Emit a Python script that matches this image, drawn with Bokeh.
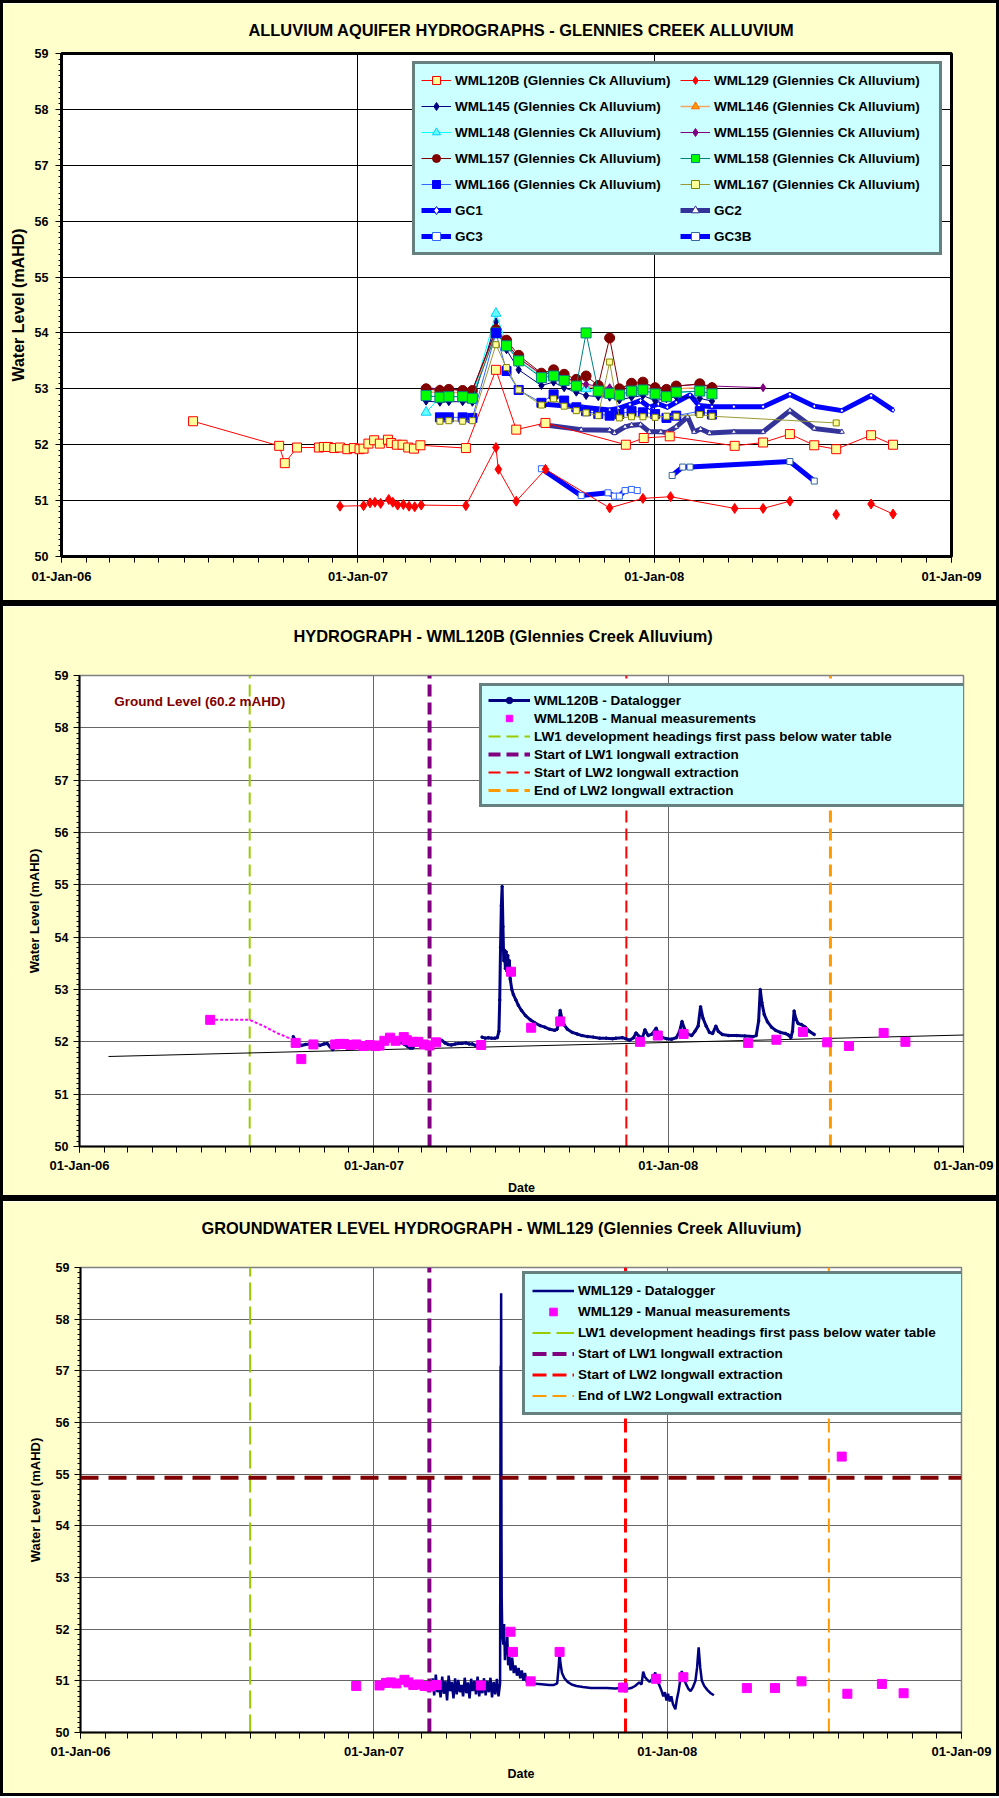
import numpy as np
import pandas as pd
from bokeh.plotting import figure
from bokeh.models import (Range1d, FixedTicker, SingleIntervalTicker, DatetimeTickFormatter,
                          Legend, LegendItem, Span, Label)
from bokeh.embed import file_html
from bokeh.resources import INLINE

# ---------------- DATA (days counted from BASE date) ----------------
BASE = "2007-01-01"
X_START, X_END = "2006-01-01", "2009-01-01"
Y_MIN, Y_MAX = 50, 59
YEAR_TICKS = ["2006-01-01", "2007-01-01", "2008-01-01", "2009-01-01"]

wml120b_days = [-203, -97, -90, -75, -48, -42, -37, -29, -22, -13, -5, 2, 7, 13, 20, 27, 37, 41, 48, 55,
                62, 69, 77, 133, 170, 195, 231, 330, 352, 384, 464, 499, 532, 562, 589, 632, 659]
wml120b_vals = [52.42, 51.98, 51.67, 51.95, 51.95, 51.96, 51.96, 51.94, 51.95, 51.92, 51.94, 51.92, 51.93,
                52.02, 52.08, 52.02, 52.09, 52.03, 52.0, 52.0, 51.95, 51.93, 51.99, 51.94,
                53.34, 52.27, 52.39, 52.0, 52.12, 52.15, 51.98, 52.04, 52.19, 51.99, 51.92, 52.17, 52.0]

wml129_days = [-22, 7, 15, 21, 28, 38, 43, 49, 56, 63, 70, 78, 133, 170, 173, 195, 231, 310, 351, 385,
               464, 499, 532, 560, 589, 610, 632, 659]
wml129_vals = [50.9, 50.91, 50.96, 50.97, 50.95, 51.02, 50.97, 50.92, 50.93, 50.9, 50.89, 50.92, 50.91,
               51.95, 51.56, 50.99, 51.56, 50.87, 51.04, 51.07, 50.86, 50.86, 50.99, np.nan, 50.75, np.nan,
               50.94, 50.76]

cluster_days = [84, 101, 112, 129, 141, 170, 183, 198, 226, 241, 254, 269, 281, 296, 310, 322, 337, 351,
                366, 380, 392, 421, 436]
wml145_vals = [52.78, 52.76, 52.77, 52.77, 52.76, 54.2, 53.7, 53.34, 53.06, 53.12, 53.02, 52.94, 52.88,
               52.86, 52.85, 52.8, 52.85, 52.88, 52.79, 52.82, 52.86, 52.83, 52.78]
wml146_vals = [52.95, 52.93, 52.94, 52.93, 52.92, 54.0, 53.8, 53.55, 53.25, 53.3, 53.2, 53.1, 53.05,
               53.0, 52.98, 52.97, 53.0, 53.03, 52.98, 52.97, 53.0, 53.02, 53.0]
wml148_vals = [52.58, 52.85, 52.86, 52.86, 52.84, 54.35, 53.8, 53.5, 53.22, 53.25, 53.15, 53.05, 53.0,
               52.95, 52.93, 52.9, 52.96, 52.98, 52.92, 52.87, 52.93, 52.96, 52.92]
wml155_days = cluster_days + [499]
wml155_vals = [53.02, 53.0, 53.0, 52.98, 52.98, 54.05, 53.82, 53.55, 53.26, 53.3, 53.22, 53.12, 53.08,
               53.05, 53.02, 53.0, 53.07, 53.1, 53.04, 53.0, 53.05, 53.08, 53.05, 53.02]
wml157_vals = [53.0, 52.97, 52.99, 52.97, 52.97, 54.06, 53.87, 53.6, 53.28, 53.34, 53.26, 53.17, 53.23,
               53.06, 53.91, 53.0, 53.1, 53.12, 53.02, 52.99, 53.05, 53.09, 53.02]
wml158_vals = [52.88, 52.85, 52.86, 52.86, 52.83, 54.0, 53.77, 53.5, 53.2, 53.23, 53.15, 53.05, 54.0,
               52.96, 52.92, 52.89, 52.96, 52.98, 52.91, 52.86, 52.94, 52.96, 52.91]
wml166_days = [101, 112, 129, 141, 170, 183, 198, 226, 241, 254, 269, 281, 296, 310, 322, 337, 351, 366,
               380, 392, 421, 436]
wml166_vals = [52.49, 52.49, 52.49, 52.48, 54.0, 53.32, 52.98, 52.75, 52.9, 52.79, 52.67, 52.6, 52.55,
               52.52, 52.55, 52.6, 52.58, 52.55, 52.48, 52.52, 52.6, 52.54]
wml167_days = wml166_days + [589]
wml167_vals = [52.42, 52.43, 52.42, 52.43, 53.79, 53.38, 52.98, 52.71, 52.82, 52.69, 52.61, 52.57, 52.52,
               53.48, 52.48, 52.5, 52.5, 52.49, 52.51, 52.51, 52.54, 52.51, 52.39]

gc1_days = [226, 277, 310, 321, 335, 348, 359, 370, 381, 392, 409, 420, 436, 463, 499, 532, 562, 596, 632, 659]
gc1_vals = [52.73, 52.67, 52.62, 52.65, 52.72, 52.79, 52.67, 52.73, 52.67, 52.76, 52.89, 52.7, 52.68,
            52.68, 52.68, 52.9, 52.69, 52.61, 52.88, 52.62]
gc2_days = [226, 275, 310, 316, 329, 337, 348, 359, 373, 381, 392, 406, 414, 422, 433, 463, 499, 532, 562, 596]
gc2_vals = [52.36, 52.27, 52.26, 52.21, 52.32, 52.35, 52.36, 52.23, 52.23, 52.22, 52.32, 52.5, 52.23,
            52.28, 52.21, 52.23, 52.23, 52.61, 52.29, 52.23]
gc3_days = [226, 275, 308, 316, 322, 329, 337, 344]
gc3_vals = [51.57, 51.09, 51.14, 51.08, 51.08, 51.18, 51.2, 51.18]
gc3b_days = [387, 400, 409, 532, 562]
gc3b_vals = [51.45, 51.6, 51.6, 51.7, 51.35]

# Panel 2: WML120B datalogger
wml120b_log_days = [-100, -97, -93, -90, -85, -80, -75, -70, -67, -62, -58, -54, -51, -48, -44, -40, -35,
                    -29, -24, -20, -16, -10, -5, 0, 5, 9, 13, 17, 22, 27, 32, 37, 42, 45, 48, 51, 55, 60,
                    64, 67, 72, 77, 81, 84, 88, 92, 96, 101, 105, 109, 114, 118, 122, 126, 129, 131,
                    134, 138, 142, 146, 150, 153, 155, 156, 157, 158, 159, 160, 161, 162, 163, 164, 165,
                    166, 167, 168, 169, 171, 173, 176, 179, 183, 188, 194, 200, 206, 212, 218, 224, 227,
                    229, 231, 233, 236, 240, 246, 252, 258, 265, 272, 280, 288, 296, 300, 308, 312, 317,
                    322, 325, 329, 333, 336, 340, 345, 350, 353, 358, 363, 369, 375, 379, 382, 385, 389,
                    394, 398, 402, 405, 408, 412, 416, 420, 424, 427, 432, 440, 450, 460, 470, 474, 477,
                    479, 481, 484, 488, 493, 498, 504, 510, 514, 517, 519, 521, 523, 526, 530, 535, 540, 546]
wml120b_log_vals = [52.1, 52.02, 51.95, 51.93, 51.95, 51.96, 51.94, 51.95, 51.93, 51.96, 51.97, 51.9, 51.85,
                    51.92, 51.95, 51.93, 51.94, 51.93, 51.95, 51.94, 51.96, 51.94, 51.93, 51.93, 51.95,
                    51.97, 51.97, 52.0, 52.04, 52.02, 52.0, 51.96, 51.91, 51.88, 51.88, 51.95, 52.0, 51.97,
                    51.95, 51.94, 51.95, 51.96, 52.0, 52.03, 51.98, 51.95, 51.94, 51.96, 51.97, 51.97,
                    51.98, 51.96, 51.96, 51.93, 51.91, np.nan,
                    52.09, 52.07, 52.08, 52.07, 52.07, 52.08, 52.2, 52.8, 53.8, 54.6, 54.97, 54.2, 53.55,
                    53.75, 53.4, 53.72, 53.35, 53.65, 53.3, 53.55, 53.2, 53.0, 52.9, 52.8, 52.7, 52.6,
                    52.5, 52.42, 52.36, 52.31, 52.28, 52.24, 52.22, 52.24, 52.35, 52.6, 52.45, 52.32,
                    52.24, 52.18, 52.15, 52.12, 52.1, 52.09, 52.07, 52.07, 52.06, 52.07, 52.08, 52.06,
                    52.03, 52.08, 52.17, 52.1, 52.08, 52.23, 52.12, 52.15, 52.26, 52.15, 52.08, 52.06,
                    52.05, 52.08, 52.2, 52.39, 52.25, 52.15, 52.12, 52.2, 52.3, 52.67, 52.45, 52.3, 52.18,
                    52.16, 52.3, 52.2, 52.14, 52.12, 52.12, 52.11, 52.1, 52.12, 52.4, 53.0, 52.75, 52.52,
                    52.38, 52.28, 52.22, 52.18, 52.16, 52.13, 52.08, 52.2, 52.59, 52.45, 52.35, 52.33,
                    52.28, 52.2, 52.14]
wml120b_backfill_days = [-203, -154, -138, -119, -100]
wml120b_backfill_vals = [52.42, 52.42, 52.31, 52.16, 52.04]
trend_days = [-329, 731]
trend_vals = [51.72, 52.13]
ground_level_text = "Ground Level (60.2 mAHD)"
ground_level_label_day, ground_level_label_val = -322, 58.5

# Panel 3: WML129 datalogger
wml129_noise_days = [73, 75, 77, 79, 81, 83, 85, 87, 89, 91, 93, 95, 97, 99, 101, 103, 105, 107, 109, 111,
                     113, 115, 117, 119, 121, 123, 125, 127, 129, 131, 133, 135, 137, 139, 141, 143, 145,
                     147, 149, 151, 153, 155, 157]
wml129_noise_vals = [51.05, 50.72, 51.12, 50.78, 50.95, 50.68, 51.08, 50.75, 51.0, 50.62, 51.1, 50.8, 50.98,
                     50.66, 51.05, 50.74, 51.02, 50.78, 50.92, 50.7, 51.06, 50.76, 50.97, 50.66, 51.04,
                     50.8, 51.0, 50.74, 51.08, 50.7, 50.96, 50.76, 51.05, 50.72, 51.0, 50.78, 51.06, 50.68,
                     50.98, 50.74, 51.04, 50.7, 50.95]
wml129_post_days = [157.6, 157.9, 158.3, 158.7, 159.0, 159.5, 160, 161, 162, 163, 164, 165, 166, 167, 168,
                    170, 172, 174, 176, 178, 180, 182, 184, 186, 188, 190, 193, 198, 205, 212, 218, 224,
                    228, 230, 231, 232, 234, 237, 241, 246, 252, 260, 270, 280, 290, 300, 308, 314, 320,
                    325, 330, 333, 335, 337, 340, 343, 347, 350, 352, 355, 358, 360, 362, 364, 366, 368,
                    370, 372, 375, 377, 379, 381, 383, 385, 388, 391, 394, 397, 400, 402, 404, 406, 408,
                    411, 415, 419, 423]
wml129_post_vals = [57.1, 55.5, 58.5, 54.0, 52.6, 52.1, 51.85, 51.7, 52.1, 51.4, 51.75, 51.5, 51.85, 51.3,
                    51.55, 51.2, 51.45, 51.15, 51.3, 51.1, 51.25, 51.05, 51.2, 51.0, 51.15, 50.98, 50.97,
                    50.95, 50.94, 50.93, 50.92, 50.92, 50.95, 51.3, 51.55, 51.35, 51.15, 51.05, 50.98,
                    50.93, 50.9, 50.88, 50.86, 50.86, 50.86, 50.85, 50.86, 50.84, 50.86, 50.9, 50.97,
                    50.93, 51.18, 51.08, 51.02, 50.98, 51.05, 51.16, 51.0, 50.92, 50.8, 50.7, 50.78,
                    50.62, 50.75, 50.6, 50.7, 50.55, 50.45, 50.65, 50.8, 51.0, 51.19, 51.05, 50.95, 50.85,
                    50.8, 50.88, 51.0, 51.25, 51.65, 51.25, 51.0, 50.9, 50.82, 50.76, 50.72]
wml129_extra_manual_days = [582]
wml129_extra_manual_vals = [55.34]
wml129_ground_level = 54.93

# Event lines (days from BASE)
events = [
    ("LW1 development headings first pass below water table", -154, "#99CC00"),
    ("Start of LW1 longwall extraction", 69, "#800080"),
    ("Start of LW2 longwall extraction", 313, "#FF0000"),
    ("End of LW2 longwall extraction", 566, "#FF9900"),
]

# ---------------- HELPERS ----------------
FONT = "Liberation Sans"
base_ts = pd.Timestamp(BASE)


def dts(days):
    return base_ts + pd.to_timedelta(np.asarray(days, dtype=float), unit="D")


def ms(ts):
    return pd.Timestamp(ts).value / 1e6


YEAR_MS = [ms(t) for t in YEAR_TICKS]
MONTH_MS = [ms(t) for t in pd.date_range(X_START, X_END, freq="MS")]
FMT = "%d-%b-%y"


def make_fig(height, title, mbl, mbr, mbt, mbb, title_offset, title_standoff, ylab_size, ylab_standoff,
             ytick_standoff, grid_color, outline_color, outline_width, xlabel=None):
    p = figure(width=999, height=height, x_axis_type="datetime",
               x_range=Range1d(pd.Timestamp(X_START), pd.Timestamp(X_END)),
               y_range=Range1d(Y_MIN, Y_MAX), output_backend="svg", toolbar_location=None,
               min_border_left=mbl, min_border_right=mbr, min_border_top=mbt, min_border_bottom=mbb,
               background_fill_color="white", border_fill_color="#FFFFCC",
               styles={"border": "3px solid black"})
    p.title.text = title
    p.title.align = "left"
    p.title.offset = title_offset
    p.title.standoff = title_standoff
    p.title.text_font = FONT
    p.title.text_font_size = "16.4px"
    p.title.text_font_style = "bold"
    p.title.text_color = "black"

    p.outline_line_color = outline_color
    p.outline_line_width = outline_width

    p.xaxis.ticker = FixedTicker(ticks=YEAR_MS, minor_ticks=MONTH_MS)
    p.xaxis.formatter = DatetimeTickFormatter(years=FMT, months=FMT, days=FMT, hours=FMT, hourmin=FMT,
                                              minutes=FMT, minsec=FMT, seconds=FMT, milliseconds=FMT,
                                              microseconds=FMT)
    p.yaxis.ticker = SingleIntervalTicker(interval=1, num_minor_ticks=10)
    for ax in (p.xaxis[0], p.yaxis[0]):
        ax.axis_line_color = "black"
        ax.axis_line_width = 2
        ax.major_tick_line_color = "black"
        ax.minor_tick_line_color = "black"
        ax.major_tick_in = 0
        ax.minor_tick_in = 0
        ax.major_label_text_font = FONT
        ax.major_label_text_font_style = "bold"
        ax.major_label_text_color = "black"
        ax.axis_label_text_font = FONT
        ax.axis_label_text_font_style = "bold"
        ax.axis_label_text_color = "black"
    p.xaxis.major_tick_out = 6
    p.xaxis.minor_tick_out = 6
    p.xaxis.major_label_standoff = 6 if xlabel is None else 5
    p.xaxis.major_label_text_font_size = "13px"
    p.yaxis.major_tick_out = 6
    p.yaxis.minor_tick_out = 3
    p.yaxis.major_label_standoff = ytick_standoff
    p.yaxis.major_label_text_font_size = "12.5px"
    p.yaxis.axis_label = "Water Level (mAHD)"
    p.yaxis.axis_label_text_font_size = ylab_size
    p.yaxis.axis_label_standoff = ylab_standoff
    if xlabel:
        p.xaxis.axis_label = xlabel
        p.xaxis.axis_label_text_font_size = "12.5px"
        p.xaxis.axis_label_standoff = 5

    p.xgrid.grid_line_color = grid_color
    p.ygrid.grid_line_color = grid_color
    p.xgrid.grid_line_width = 1
    p.ygrid.grid_line_width = 1
    return p


def style_legend(lg, loc, glyph_w, glyph_h, spacing, padding, label_w, ncols=1):
    lg.location = loc
    lg.glyph_width = glyph_w
    lg.glyph_height = glyph_h
    lg.spacing = spacing
    lg.padding = padding
    lg.margin = 0
    lg.label_width = label_w
    lg.label_standoff = 4
    lg.label_text_font = FONT
    lg.label_text_font_style = "bold"
    lg.label_text_font_size = "13.5px"
    lg.label_text_color = "black"
    lg.background_fill_color = "#CCFFFF"
    lg.background_fill_alpha = 1
    lg.border_line_color = "black"
    lg.border_line_width = 3
    if ncols > 1:
        lg.orientation = "horizontal"
        lg.ncols = ncols


# ---------------- PANEL 1 ----------------
p1 = make_fig(603, "ALLUVIUM AQUIFER HYDROGRAPHS - GLENNIES CREEK ALLUVIUM", 58, 51, 50, 50, 187, 30,
              "16px", 5, 7, "black", "black", 3)

series = [
    # label, days, vals, line color, line width, marker, size, fill, marker line
    ("GC1", gc1_days, gc1_vals, "#0000FF", 5, "diamond", 5, "white", "#0000FF"),
    ("GC2", gc2_days, gc2_vals, "#333399", 5, "triangle", 5, "white", "#333399"),
    ("GC3", gc3_days, gc3_vals, "#0000FF", 5, "square", 6, "white", "#3366FF"),
    ("GC3B", gc3b_days, gc3b_vals, "#0000FF", 5, "square", 6, "white", "#336699"),
    ("WML120B (Glennies Ck Alluvium)", wml120b_days, wml120b_vals, "#FF0000", 1, "square", 9, "#FFFF99", "#FF0000"),
    ("WML129 (Glennies Ck Alluvium)", wml129_days, wml129_vals, "#FF0000", 1, "diamond", 10, "#FF0000", "#FF0000"),
    ("WML145 (Glennies Ck Alluvium)", cluster_days, wml145_vals, "#000080", 1, "diamond", 8, "#000080", "#000080"),
    ("WML146 (Glennies Ck Alluvium)", cluster_days, wml146_vals, "#F4A460", 1.5, "triangle", 6, "#FF9900", "#FF6600"),
    ("WML148 (Glennies Ck Alluvium)", cluster_days, wml148_vals, "#00FFFF", 1, "triangle", 10, "#66FFFF", "#00CCFF"),
    ("WML155 (Glennies Ck Alluvium)", wml155_days, wml155_vals, "#800080", 1, "diamond", 8, "#800080", "#800080"),
    ("WML157 (Glennies Ck Alluvium)", cluster_days, wml157_vals, "#800000", 1, "circle", 10, "#800000", "#800000"),
    ("WML158 (Glennies Ck Alluvium)", cluster_days, wml158_vals, "#008080", 1, "square", 10, "#00FF00", "#008080"),
    ("WML166 (Glennies Ck Alluvium)", wml166_days, wml166_vals, "#3366FF", 1, "square", 9, "#0000FF", "#0000FF"),
    ("WML167 (Glennies Ck Alluvium)", wml167_days, wml167_vals, "#999933", 1, "square", 6, "#FFFF99", "#808000"),
]
rend = {}
for lab, d, v, lc, lw, mk, sz, fc, mc in series:
    x = dts(d)
    r_line = p1.line(x, v, line_color=lc, line_width=lw)
    r_pt = p1.scatter(x, v, marker=mk, size=sz, fill_color=fc, line_color=mc, line_width=1)
    rend[lab] = [r_line, r_pt]

order1 = ["WML120B (Glennies Ck Alluvium)", "WML129 (Glennies Ck Alluvium)",
          "WML145 (Glennies Ck Alluvium)", "WML146 (Glennies Ck Alluvium)",
          "WML148 (Glennies Ck Alluvium)", "WML155 (Glennies Ck Alluvium)",
          "WML157 (Glennies Ck Alluvium)", "WML158 (Glennies Ck Alluvium)",
          "WML166 (Glennies Ck Alluvium)", "WML167 (Glennies Ck Alluvium)",
          "GC1", "GC2", "GC3", "GC3B"]
lg1 = Legend(items=[LegendItem(label=k, renderers=rend[k]) for k in order1])
style_legend(lg1, (351, 301), 30, 20, 6, 6, 219, ncols=2)
p1.add_layout(lg1)


# ---------------- PANELS 2 & 3 helpers ----------------
def add_events(p, widths, dashes):
    out = []
    for (lab, d, col), w, dash in zip(events, widths, dashes):
        x = dts([d])
        r = p.segment(x0=x, y0=[Y_MIN], x1=x, y1=[Y_MAX], line_color=col, line_width=w, line_dash=dash)
        out.append((lab, r))
    return out


# ---------------- PANEL 2 ----------------
p2 = make_fig(595, "HYDROGRAPH - WML120B (Glennies Creek Alluvium)\n ", 76, 39, 69, 55, 214, 26,
              "13px", 10, 5, "#666666", "#808080", 1.5, xlabel="Date")
ev2 = add_events(p2, [2, 4, 2, 3], ["12 6", "12 6", "12 6", "12 6"])
p2.line(dts(trend_days), trend_vals, line_color="black", line_width=1)
p2.line(dts(wml120b_backfill_days), wml120b_backfill_vals, line_color="#FF00FF", line_width=2, line_dash="3 2")
x_log2 = dts(wml120b_log_days)
r2_log = p2.line(x_log2, wml120b_log_vals, line_color="#000080", line_width=3)
r2_logpt = p2.scatter(x_log2, wml120b_log_vals, marker="circle", size=2.5, fill_color="#000080",
                      line_color="#000080")
r2_man = p2.scatter(dts(wml120b_days), wml120b_vals, marker="square", size=9, fill_color="#FF00FF",
                    line_color="#FF00FF")
p2.add_layout(Label(x=ms(dts([ground_level_label_day])[0]), y=ground_level_label_val,
                    text=ground_level_text, text_font=FONT, text_font_style="bold",
                    text_font_size="13.5px", text_color="#800000", text_baseline="middle"))
items2 = [LegendItem(label="WML120B - Datalogger", renderers=[r2_log, r2_logpt]),
          LegendItem(label="WML120B - Manual measurements", renderers=[r2_man])]
items2 += [LegendItem(label=lab, renderers=[r]) for lab, r in ev2]
lg2 = Legend(items=items2)
style_legend(lg2, (400, 339), 42, 16, 2, 6, 423)
p2.add_layout(lg2)

# ---------------- PANEL 3 ----------------
p3 = make_fig(598, "GROUNDWATER LEVEL HYDROGRAPH - WML129 (Glennies Creek Alluvium)\n ", 77, 41, 66, 67,
              121, 26, "13px", 10, 5, "#666666", "#808080", 1.5, xlabel="Date")
p3.add_layout(Span(location=wml129_ground_level, dimension="width", line_color="#800000", line_width=4,
                   line_dash="18 10"))
ev3 = add_events(p3, [2, 4, 3, 2], ["18 6", "14 6", "14 6", "14 6"])
log3_days = wml129_noise_days + wml129_post_days
log3_vals = wml129_noise_vals + wml129_post_vals
r3_log = p3.line(dts(log3_days), log3_vals, line_color="#000080", line_width=2.5)
man3_days = [d for d, v in zip(wml129_days, wml129_vals) if not np.isnan(v)] + wml129_extra_manual_days
man3_vals = [v for v in wml129_vals if not np.isnan(v)] + wml129_extra_manual_vals
r3_man = p3.scatter(dts(man3_days), man3_vals, marker="square", size=9, fill_color="#FF00FF",
                    line_color="#FF00FF")
items3 = [LegendItem(label="WML129 - Datalogger", renderers=[r3_log]),
          LegendItem(label="WML129 - Manual measurements", renderers=[r3_man])]
ev3_labels = ["LW1 development headings first pass below water table", "Start of LW1 longwall extraction",
              "Start of LW2 longwall extraction", "End of LW2 Longwall extraction"]
items3 += [LegendItem(label=l, renderers=[r]) for l, (_, r) in zip(ev3_labels, ev3)]
lg3 = Legend(items=items3)
style_legend(lg3, (442, 317), 42, 19, 2, 7, 386)
p3.add_layout(lg3)

open("out.html", "w").write(file_html([p1, p2, p3], INLINE))
